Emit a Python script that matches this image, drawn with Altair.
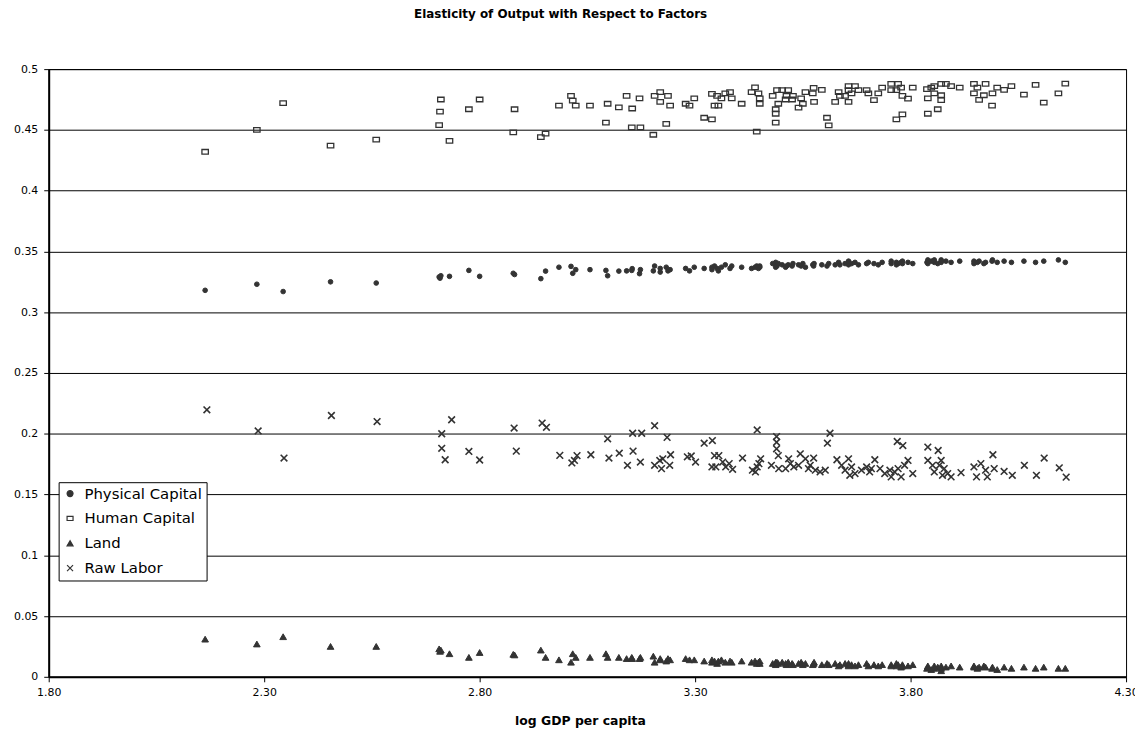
import altair as alt
import pandas as pd

factors = ["Physical Capital", "Human Capital", "Land", "Raw Labor"]
x_ticks = [1.8, 2.3, 2.8, 3.3, 3.8, 4.3]
y_ticks = [0, 0.05, 0.1, 0.15, 0.2, 0.25, 0.3, 0.35, 0.4, 0.45, 0.5]

gdp = [2.163, 2.283, 2.344, 2.454, 2.560, 2.706, 2.708, 2.710, 2.730, 2.775,
       2.800, 2.878, 2.881, 2.942, 2.953, 2.984, 3.012, 3.016, 3.023, 3.056,
       3.093, 3.097, 3.123, 3.141, 3.153, 3.154, 3.171, 3.173, 3.203, 3.206,
       3.219, 3.219, 3.233, 3.237, 3.242, 3.278, 3.287, 3.298, 3.321, 3.339,
       3.339, 3.345, 3.351, 3.354, 3.361, 3.370, 3.381, 3.385, 3.408, 3.431,
       3.439, 3.443, 3.447, 3.450, 3.450, 3.480, 3.487, 3.487, 3.487, 3.490,
       3.493, 3.502, 3.510, 3.512, 3.516, 3.525, 3.527, 3.540, 3.546, 3.550,
       3.556, 3.573, 3.575, 3.576, 3.594, 3.606, 3.610, 3.625, 3.633, 3.636,
       3.648, 3.656, 3.656, 3.656, 3.663, 3.671, 3.679, 3.698, 3.702, 3.715,
       3.725, 3.734, 3.755, 3.755, 3.767, 3.767, 3.771, 3.778, 3.781, 3.781,
       3.794, 3.805, 3.838, 3.840, 3.840, 3.848, 3.855, 3.855, 3.863, 3.871,
       3.871, 3.871, 3.882, 3.894, 3.914, 3.947, 3.947, 3.955, 3.959, 3.970,
       3.974, 3.989, 3.990, 4.001, 4.017, 4.034, 4.063, 4.090, 4.109, 4.143,
       4.159]

human_capital = [0.432, 0.450, 0.472, 0.437, 0.442, 0.454, 0.465, 0.475, 0.441, 0.467,
                 0.475, 0.448, 0.467, 0.444, 0.447, 0.470, 0.478, 0.474, 0.470, 0.470,
                 0.456, 0.4715, 0.4685, 0.478, 0.452, 0.4676, 0.476, 0.452, 0.446, 0.478,
                 0.481, 0.473, 0.455, 0.478, 0.470, 0.4715, 0.470, 0.476, 0.460, 0.4587,
                 0.4796, 0.470, 0.478, 0.470, 0.476, 0.480, 0.481, 0.476, 0.4715, 0.481,
                 0.485, 0.4486, 0.480, 0.476, 0.4715, 0.478, 0.467, 0.4633, 0.456, 0.4827,
                 0.4715, 0.4827, 0.475, 0.478, 0.4827, 0.475, 0.478, 0.4684, 0.476, 0.4715,
                 0.481, 0.480, 0.4845, 0.473, 0.483, 0.460, 0.4537, 0.473, 0.481, 0.478,
                 0.478, 0.486, 0.4827, 0.4731, 0.480, 0.486, 0.4827, 0.4827, 0.480, 0.4745,
                 0.480, 0.4848, 0.4878, 0.4827, 0.4827, 0.4587, 0.4878, 0.4848, 0.478, 0.4627,
                 0.4758, 0.4848, 0.4835, 0.476, 0.4633, 0.4848, 0.486, 0.480, 0.467, 0.4878,
                 0.4785, 0.4745, 0.4878, 0.486, 0.4848, 0.4878, 0.480, 0.4848, 0.4747, 0.4785,
                 0.4878, 0.470, 0.480, 0.4848, 0.483, 0.486, 0.479, 0.487, 0.4725, 0.480,
                 0.488]

physical_capital = [0.318, 0.323, 0.317, 0.325, 0.324, 0.329, 0.328, 0.330, 0.3295, 0.3344,
                    0.3295, 0.332, 0.331, 0.3276, 0.3338, 0.337, 0.3377, 0.332, 0.335, 0.335,
                    0.3344, 0.330, 0.3338, 0.334, 0.3344, 0.3358, 0.3317, 0.335, 0.334, 0.338,
                    0.336, 0.333, 0.337, 0.334, 0.335, 0.336, 0.334, 0.337, 0.336, 0.337,
                    0.335, 0.338, 0.336, 0.334, 0.337, 0.339, 0.336, 0.338, 0.337, 0.336,
                    0.337, 0.338, 0.336, 0.337, 0.338, 0.340, 0.339, 0.337, 0.341, 0.338,
                    0.340, 0.339, 0.337, 0.338, 0.339, 0.338, 0.340, 0.339, 0.338, 0.340,
                    0.337, 0.339, 0.338, 0.340, 0.339, 0.338, 0.340, 0.339, 0.341, 0.339,
                    0.340, 0.341, 0.339, 0.342, 0.340, 0.341, 0.339, 0.340, 0.341, 0.340,
                    0.339, 0.341, 0.340, 0.342, 0.341, 0.339, 0.340, 0.341, 0.342, 0.340,
                    0.341, 0.340, 0.341, 0.343, 0.340, 0.342, 0.341, 0.343, 0.340, 0.342,
                    0.341, 0.343, 0.342, 0.341, 0.342, 0.340, 0.342, 0.341, 0.342, 0.340,
                    0.341, 0.342, 0.343, 0.341, 0.342, 0.341, 0.342, 0.341, 0.342, 0.343,
                    0.341]

land = [0.031, 0.027, 0.033, 0.025, 0.025, 0.023, 0.021, 0.022, 0.019, 0.016,
        0.020, 0.0185, 0.018, 0.022, 0.016, 0.014, 0.012, 0.019, 0.016, 0.016,
        0.019, 0.016, 0.016, 0.015, 0.016, 0.015, 0.015, 0.016, 0.017, 0.012,
        0.015, 0.014, 0.013, 0.015, 0.014, 0.015, 0.014, 0.014, 0.013, 0.014,
        0.012, 0.013, 0.011, 0.013, 0.014, 0.012, 0.013, 0.012, 0.013, 0.012,
        0.013, 0.011, 0.012, 0.013, 0.011, 0.011, 0.012, 0.010, 0.011, 0.012,
        0.011, 0.012, 0.011, 0.010, 0.012, 0.011, 0.010, 0.011, 0.012, 0.010,
        0.011, 0.010, 0.011, 0.012, 0.010, 0.011, 0.010, 0.011, 0.009, 0.010,
        0.011, 0.010, 0.009, 0.011, 0.010, 0.009, 0.010, 0.011, 0.009, 0.010,
        0.009, 0.010, 0.009, 0.010, 0.009, 0.011, 0.010, 0.008, 0.009, 0.010,
        0.009, 0.010, 0.007, 0.009, 0.008, 0.006, 0.009, 0.007, 0.008, 0.009,
        0.005, 0.007, 0.008, 0.009, 0.008, 0.008, 0.009, 0.007, 0.008, 0.009,
        0.008, 0.007, 0.008, 0.006, 0.008, 0.007, 0.008, 0.007, 0.008, 0.007,
        0.007]

labor_gdp = [2.167, 2.286, 2.346, 2.456, 2.562, 2.712, 2.712, 2.720, 2.735, 2.775,
             2.800, 2.880, 2.885, 2.945, 2.955, 2.986, 3.014, 3.020, 3.026, 3.058,
             3.097, 3.100, 3.124, 3.143, 3.155, 3.156, 3.173, 3.176, 3.206, 3.206,
             3.218, 3.222, 3.225, 3.235, 3.241, 3.243, 3.282, 3.291, 3.301, 3.321,
             3.339, 3.340, 3.345, 3.348, 3.355, 3.364, 3.371, 3.379, 3.387, 3.410,
             3.433, 3.440, 3.444, 3.444, 3.448, 3.452, 3.477, 3.489, 3.489, 3.489,
             3.493, 3.494, 3.510, 3.517, 3.521, 3.529, 3.540, 3.544, 3.556, 3.563,
             3.567, 3.575, 3.579, 3.590, 3.602, 3.607, 3.613, 3.629, 3.640, 3.648,
             3.656, 3.659, 3.663, 3.671, 3.686, 3.698, 3.705, 3.709, 3.717, 3.729,
             3.740, 3.752, 3.755, 3.763, 3.769, 3.771, 3.778, 3.782, 3.786, 3.794,
             3.805, 3.840, 3.840, 3.851, 3.855, 3.864, 3.867, 3.871, 3.874, 3.878,
             3.886, 3.894, 3.917, 3.947, 3.953, 3.963, 3.974, 3.978, 3.991, 3.994,
             4.017, 4.036, 4.064, 4.092, 4.110, 4.145, 4.161]

raw_labor = [0.2197, 0.2023, 0.180, 0.215, 0.210, 0.200, 0.188, 0.1786, 0.2115, 0.1854,
             0.1784, 0.2047, 0.1857, 0.2088, 0.2053, 0.1822, 0.176, 0.178, 0.182, 0.1827,
             0.1958, 0.180, 0.184, 0.174, 0.2004, 0.1857, 0.1767, 0.2004, 0.2066, 0.174,
             0.178, 0.1713, 0.1794, 0.197, 0.174, 0.1827, 0.181, 0.1817, 0.1767, 0.1922,
             0.1727, 0.1944, 0.182, 0.1727, 0.182, 0.1767, 0.1727, 0.1754, 0.1707, 0.180,
             0.170, 0.1686, 0.2031, 0.1727, 0.1754, 0.1794, 0.174, 0.1977, 0.193, 0.1876,
             0.182, 0.1713, 0.1713, 0.1794, 0.1754, 0.1727, 0.174, 0.1835, 0.1794, 0.1713,
             0.174, 0.180, 0.170, 0.1686, 0.170, 0.1922, 0.2004, 0.1786, 0.174, 0.170,
             0.1794, 0.1658, 0.1727, 0.1672, 0.170, 0.1727, 0.1686, 0.1713, 0.1786, 0.1713,
             0.1672, 0.170, 0.1645, 0.1686, 0.1936, 0.1713, 0.1645, 0.1903, 0.174, 0.178,
             0.1672, 0.189, 0.178, 0.174, 0.1686, 0.1862, 0.174, 0.178, 0.1658, 0.1713,
             0.1672, 0.1645, 0.168, 0.1727, 0.1645, 0.1754, 0.170, 0.1645, 0.1827, 0.1713,
             0.169, 0.1658, 0.174, 0.1658, 0.180, 0.172, 0.1643]

rows = []
for x, v in zip(gdp, physical_capital):
    rows.append({"gdp": x, "value": v, "factor": "Physical Capital"})
for x, v in zip(gdp, human_capital):
    rows.append({"gdp": x, "value": v, "factor": "Human Capital"})
for x, v in zip(gdp, land):
    rows.append({"gdp": x, "value": v, "factor": "Land"})
for x, v in zip(labor_gdp, raw_labor):
    rows.append({"gdp": x, "value": v, "factor": "Raw Labor"})
df = pd.DataFrame(rows)

ink = "#333333"
shapes = ["circle", "M-1,-0.7L1,-0.7L1,0.7L-1,0.7Z", "triangle-up", "M-1,-1L1,1M-1,1L1,-1"]
fills = [ink, "transparent", ink, "transparent"]
strokes = [ink, ink, ink, ink]

leg = alt.Legend(title=None, orient="none", legendX=10, legendY=416)

base = alt.Chart(df).encode(
    x=alt.X("gdp:Q",
            scale=alt.Scale(domain=[1.8, 4.3], nice=False, zero=False),
            axis=alt.Axis(values=x_ticks, format=".2f", title="log GDP per capita",
                          grid=False, tickSize=5, labelPadding=5, titlePadding=17,
                          labelFlush=False, titleX=535)),
    y=alt.Y("value:Q",
            scale=alt.Scale(domain=[0, 0.5], nice=False),
            axis=alt.Axis(values=y_ticks, format=".2~f", title=None, grid=True,
                          tickSize=5, labelPadding=6, labelFlush=False)),
    shape=alt.Shape("factor:N", scale=alt.Scale(domain=factors, range=shapes), legend=leg),
    fill=alt.Fill("factor:N", scale=alt.Scale(domain=factors, range=fills), legend=leg),
    stroke=alt.Stroke("factor:N", scale=alt.Scale(domain=factors, range=strokes), legend=leg),
)

layers = [
    base.transform_filter(alt.datum.factor == "Physical Capital").mark_point(size=22, strokeWidth=1, opacity=1),
    base.transform_filter(alt.datum.factor == "Human Capital").mark_point(size=42, strokeWidth=1.3, opacity=1),
    base.transform_filter(alt.datum.factor == "Land").mark_point(size=45, strokeWidth=1, opacity=1),
    base.transform_filter(alt.datum.factor == "Raw Labor").mark_point(size=45, strokeWidth=1.6, opacity=1),
]

chart = alt.layer(*layers).properties(
    width=1085,
    height=612,
    autosize=alt.AutoSizeParams(type="none"),
    padding={"left": 41, "top": 59, "right": 9, "bottom": 50},
    title=alt.TitleParams("Elasticity of Output with Respect to Factors",
                          font="DejaVu Sans", fontSize=12, fontWeight="bold",
                          anchor="middle", frame="group", dx=-27, offset=42,
                          color="black"),
).configure_view(
    stroke="black", strokeWidth=1
).configure_axis(
    labelFont="DejaVu Sans", labelFontSize=11, labelColor="black",
    domainColor="black", domainWidth=2, tickColor="black", tickWidth=1,
    gridColor="black", gridWidth=1, gridOpacity=1,
    titleFont="DejaVu Sans", titleFontSize=12.5, titleFontWeight="bold", titleColor="black",
).configure_legend(
    labelFont="DejaVu Sans", labelFontSize=15, labelColor="black",
    strokeColor="black", fillColor="white", padding=4, rowPadding=9,
    symbolSize=36, symbolStrokeWidth=1.2, labelOffset=7,
)

chart.save("out.html", embed_options={"renderer": "svg", "actions": False})
